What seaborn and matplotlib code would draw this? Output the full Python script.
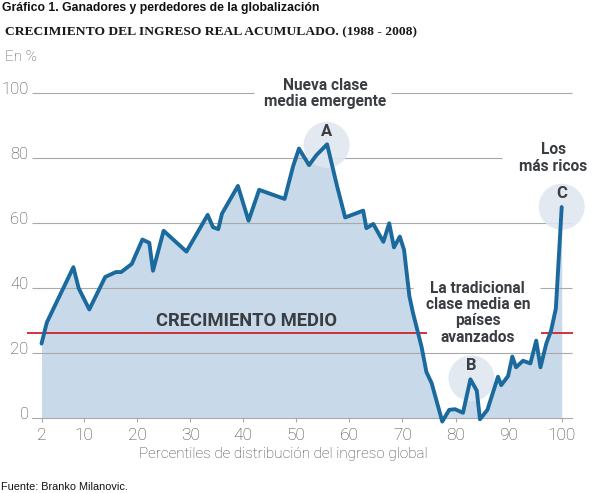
import numpy as np
import matplotlib
matplotlib.use("Agg")
import matplotlib.pyplot as plt
import matplotlib.transforms as mtransforms
from matplotlib.patches import Ellipse
import seaborn as sns

# %% data
percentil = [2, 3, 8, 9, 11, 14, 16, 17, 19, 21,
             22.3, 23, 25, 29.3, 33.3, 34.3, 35.3, 36, 39, 41,
             43, 47.8, 49.4, 50.5, 52.4, 53.8, 55.8, 57.7, 59.2, 62.6,
             63.2, 64.5, 66.4, 67.5, 68.4, 69.5, 70.3, 71.3, 72, 73.6,
             74.5, 75.5, 77.5, 78.8, 79.9, 81.4, 82.8, 84, 84.6, 86,
             88, 88.6, 89.9, 90.7, 91.4, 92.7, 94.1, 95.2, 96, 97.1,
             98, 98.9, 100]
crecimiento = [23, 29.5, 46.5, 40, 33.5, 43.5, 45, 45, 47.5, 55,
               54, 45.4, 57.7, 51.3, 62.6, 58.8, 58.2, 63, 71.5, 60.8,
               70.3, 67.5, 77.6, 83, 77.9, 81, 84.3, 71.3, 61.8, 63.9,
               58.5, 59.8, 54.3, 60, 52.6, 55.9, 51.8, 37.6, 32.3, 22,
               14.3, 10.8, -1, 2.6, 2.8, 1.7, 12, 8.5, -0.3, 2.6,
               12.8, 10.2, 13, 19, 15.7, 17.7, 16.9, 23.9, 15.7, 23,
               27, 33.8, 65]
crecimiento_medio = 26.2

x_ticks = [2, 10, 20, 30, 40, 50, 60, 70, 80, 90, 100]
y_ticks = [0, 20, 40, 60, 80, 100]

# circles: letter, percentile, value
puntos = ["A", "B", "C"]
puntos_x = [55.7, 83.0, 100.0]
puntos_y = [84.1, 12.3, 65.1]

# %% style
sns.set_style("white")
plt.rcParams["font.family"] = ["Roboto", "DejaVu Sans"]

line_col = "#1b6a9e"
fill_col = "#c8d9e9"
grid_col = "#a9a9a9"
text_col = "#3a3d42"
tick_col = "#404040"

fig = plt.figure(figsize = (5.93, 4.93), dpi = 100)
ax = fig.add_axes([0, 0, 1, 1])
ax.set_xlim(-5.826, 105.897)
ax.set_ylim(-22.98, 128.71)
ax.patch.set_alpha(0)

# area + line
ax.fill_between(percentil, np.maximum(crecimiento, 0), 0, color = fill_col, lw = 0, zorder = 1)
sns.lineplot(x = percentil, y = crecimiento, sort = False, color = line_col,
             linewidth = 2.8, ax = ax, zorder = 5)

# gridlines (broken around the labels)
ax.hlines(100, 0.2, 42.0, color = grid_col, lw = 0.8, zorder = 2)
ax.hlines(100, 67.8, 101.9, color = grid_col, lw = 0.8, zorder = 2)
ax.hlines(80, 0.2, 88.7, color = grid_col, lw = 0.8, zorder = 2)
ax.hlines(60, 0.2, 101.9, color = grid_col, lw = 0.8, zorder = 2)
ax.hlines(40, 0.2, 72.0, color = grid_col, lw = 0.8, zorder = 2)
ax.hlines(40, 95.9, 101.9, color = grid_col, lw = 0.8, zorder = 2)
ax.hlines(20, 0.2, 101.9, color = grid_col, lw = 0.8, zorder = 2)

# average growth
ax.hlines(crecimiento_medio, -0.7, 74.6, color = "#d0222e", lw = 1.3, zorder = 4)
ax.hlines(crecimiento_medio, 96.1, 102.1, color = "#d0222e", lw = 1.3, zorder = 4)

# circles + letters
for lab, px, py in zip(puntos, puntos_x, puntos_y):
    ax.add_patch(Ellipse((px, py), 8.67, 14.15, color = "#dfe7f0", alpha = 0.9, lw = 0, zorder = 3))
    ax.text(px, py + 4.0, lab, ha = "center", va = "center", fontsize = 12,
            fontweight = "bold", color = text_col, zorder = 6)

# annotations
ax.text(55.4, 99.9, "Nueva clase\nmedia emergente", ha = "center", va = "center",
        fontsize = 11.2, fontweight = "bold", color = text_col, linespacing = 1.1)
ax.text(98.4, 80.1, "Los\nmás ricos", ha = "center", va = "center",
        fontsize = 11.2, fontweight = "bold", color = text_col, linespacing = 1.1)
ax.text(84.2, 32.5, "La tradicional\nclase media en\npaíses\navanzados", ha = "center",
        va = "center", fontsize = 11.2, fontweight = "bold", color = text_col, linespacing = 1.12)
ax.text(40.7, 30.0, "CRECIMIENTO MEDIO", ha = "center", va = "center",
        fontsize = 13.2, fontweight = "bold", color = text_col)

# axes: baseline at 0 with ticks, y labels on the left
for s in ["top", "right"]:
    ax.spines[s].set_visible(False)
ax.spines["bottom"].set_position(("data", 0))
ax.spines["bottom"].set_bounds(0.2, 101.9)
ax.spines["bottom"].set_color(grid_col)
ax.spines["bottom"].set_linewidth(0.8)
ax.spines["left"].set_position(("data", 0.1))
ax.spines["left"].set_visible(False)

ax.set_xticks(x_ticks)
ax.set_xticklabels([str(t) for t in x_ticks])
ax.tick_params(axis = "x", direction = "out", length = 3, width = 0.8, color = grid_col,
               labelsize = 12.5, labelcolor = tick_col, pad = 4, bottom = True)
ax.set_yticks(y_ticks)
ax.set_yticklabels([str(t) for t in y_ticks])
ax.tick_params(axis = "y", length = 0, labelsize = 12, labelcolor = tick_col, pad = 2, left = True)
off = mtransforms.ScaledTranslation(0, 5 / 100, fig.dpi_scale_trans)
for t in ax.get_yticklabels():
    t.set_transform(t.get_transform() + off)
for t in ax.get_xticklabels() + ax.get_yticklabels():
    t.set_fontweight("light")

# titles and footer
fig.text(2 / 593, 1 - 8 / 493, "Gráfico 1. Ganadores y perdedores de la globalización",
         ha = "left", va = "center", fontsize = 8.8, fontweight = "bold",
         family = "Liberation Sans", color = "#111111")
fig.text(5 / 593, 1 - 32 / 493, "CRECIMIENTO DEL INGRESO REAL ACUMULADO. (1988 - 2008)",
         ha = "left", va = "center", fontsize = 9.7, fontweight = "bold",
         family = "Liberation Serif", color = "#1a1a1a")
fig.text(5 / 593, 1 - 57 / 493, "En %", ha = "left", va = "center", fontsize = 11,
         fontweight = "light", color = "#555555")
fig.text(283 / 593, 1 - 454 / 493, "Percentiles de distribución del ingreso global",
         ha = "center", va = "center", fontsize = 11, fontweight = "light", color = tick_col)
fig.text(1 / 593, 1 - 487 / 493, "Fuente: Branko Milanovic.", ha = "left", va = "center",
         fontsize = 7.8, family = "Liberation Sans", color = "#111111")

fig.savefig("out.png", dpi = 100)
